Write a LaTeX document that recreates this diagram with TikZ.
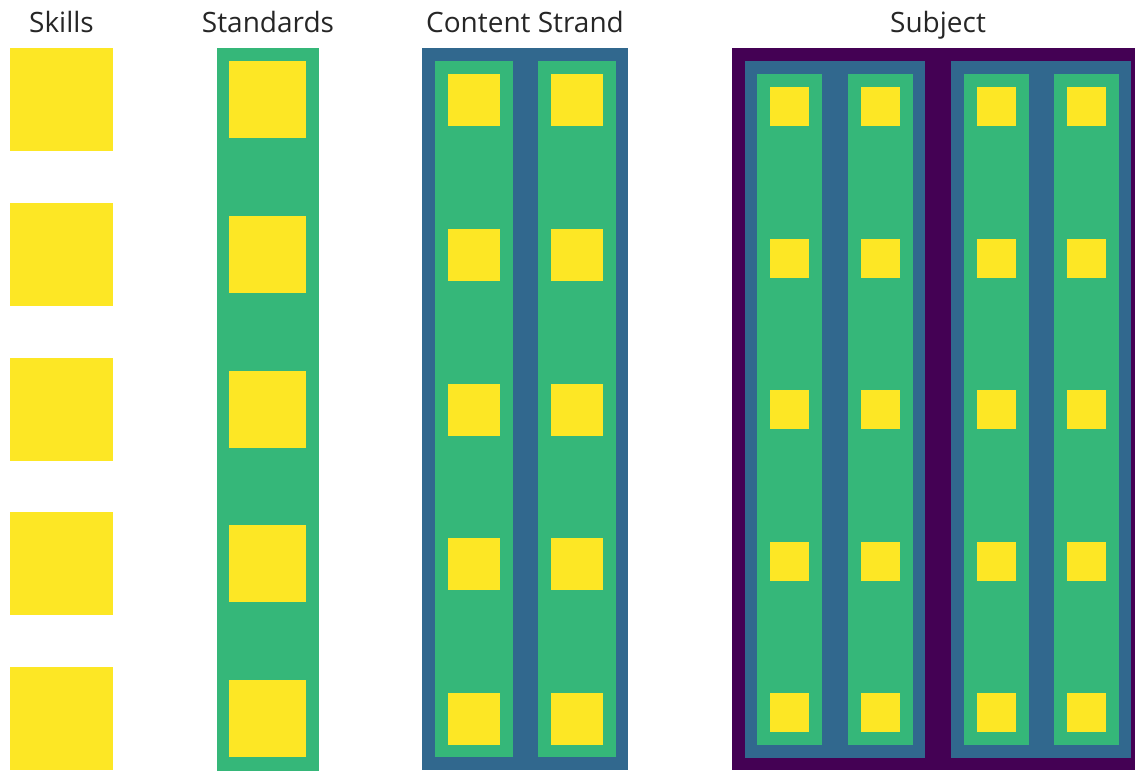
\documentclass[tikz,border=0pt]{standalone}
\usepackage{fontspec}
\setmainfont{Open Sans}
\definecolor{vyellow}{HTML}{FDE725}
\definecolor{vgreen}{HTML}{35B779}
\definecolor{vblue}{HTML}{31688E}
\definecolor{vpurple}{HTML}{440154}
\begin{document}
\begin{tikzpicture}[x=1pt,y=-1pt,
  title/.style={font=\fontsize{28}{32}\selectfont, text=black!85, anchor=base, inner sep=0pt},
  skill/.style={fill=vyellow},
  standard/.style={fill=vgreen},
  strand/.style={fill=vblue},
  subject/.style={fill=vpurple}]
\useasboundingbox (0,0) rectangle (1135,771);

% column titles
\node[title] (tskills)    at (61.5,32) {Skills};
\node[title] (tstandards) at (268,32)  {Standards};
\node[title] (tstrand)    at (525,32)  {Content Strand};
\node[title] (tsubject)   at (938,32)  {Subject};

% skills: bare squares
\foreach \i in {0,...,4}
  \fill[skill] (10,48+154.75*\i) rectangle +(103,103);

% standard: one green strip of skills
\fill[standard] (217,48) rectangle (319,771);
\foreach \i in {0,...,4}
  \fill[skill] (229,61+154.75*\i) rectangle +(77,77);

% content strand: two standards inside a blue frame
\fill[strand] (422,48) rectangle (628,770);
\foreach \x in {435,538} {
  \fill[standard] (\x,61) rectangle (\x+78,757);
  \foreach \i in {0,...,4}
    \fill[skill] (\x+13,74+154.75*\i) rectangle +(52,52);
}

% subject: two content strands inside a purple frame
\fill[subject] (732,48) rectangle (1144,770);
\foreach \x in {745,951}
  \fill[strand] (\x,61) rectangle (\x+180,758);
\foreach \x in {757,848,964,1054} {
  \fill[standard] (\x,74) rectangle (\x+65,745);
  \foreach \i in {0,...,4}
    \fill[skill] (\x+13,87+151.5*\i) rectangle +(39,39);
}
\end{tikzpicture}
\end{document}
